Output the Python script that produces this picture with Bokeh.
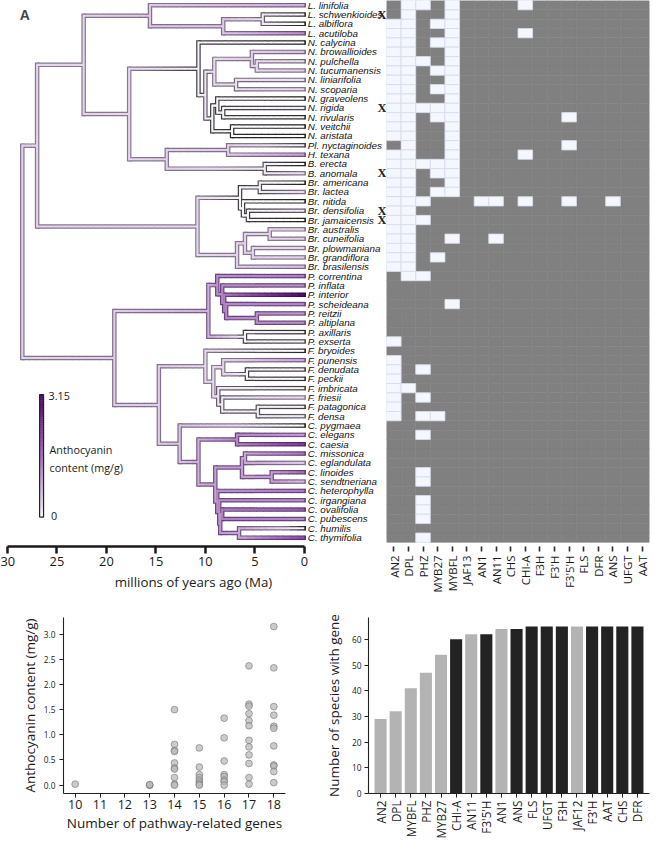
import math
from bokeh.plotting import figure
from bokeh.layouts import row, column
from bokeh.models import Range1d, FactorRange, FixedTicker, ColumnDataSource, Label, PrintfTickFormatter
from bokeh.core.properties import value
from bokeh.embed import file_html
from bokeh.resources import INLINE

# ---------------- data ----------------
species = [
    "L. linifolia", "L. schwenkioides", "L. albiflora", "L. acutiloba",
    "N. calycina", "N. browallioides", "N. pulchella", "N. tucumanensis",
    "N. liniarifolia", "N. scoparia", "N. graveolens", "N. rigida",
    "N. rivularis", "N. veitchii", "N. aristata", "Pl. nyctaginoides",
    "H. texana", "B. erecta", "B. anomala", "Br. americana", "Br. lactea",
    "Br. nitida", "Br. densifolia", "Br. jamaicensis", "Br. australis",
    "Br. cuneifolia", "Br. plowmaniana", "Br. grandiflora", "Br. brasilensis",
    "P. correntina", "P. inflata", "P. interior", "P. scheideana", "P. reitzii",
    "P. altiplana", "P. axillaris", "P. exserta", "F. bryoides", "F. punensis",
    "F. denudata", "F. peckii", "F. imbricata", "F. friesii", "F. patagonica",
    "F. densa", "C. pygmaea", "C. elegans", "C. caesia", "C. missonica",
    "C. eglandulata", "C. linoides", "C. sendtneriana", "C. heterophylla",
    "C. irgangiana", "C. ovalifolia", "C. pubescens", "C. humilis", "C. thymifolia",
]
anthocyanin = [
    0.8, 0.05, 0.0, 1.2,
    0.0, 0.6, 0.25, 0.4,
    0.25, 0.35, 0.0, 0.15,
    0.05, 0.0, 0.02, 0.1,
    1.0, 0.0, 0.3, 0.0, 0.3,
    0.0, 0.2, 0.0, 0.4,
    0.4, 0.3, 0.35, 0.6,
    1.4, 1.2, 3.15, 1.3, 1.1,
    1.2, 0.05, 0.15, 0.02, 0.9,
    0.1, 0.05, 0.1, 0.3, 0.1,
    0.2, 0.0, 1.0, 2.3, 1.5,
    0.4, 1.6, 0.6, 1.4,
    1.2, 1.8, 1.3, 0.0, 2.0,
]
marked_species = ["L. schwenkioides", "N. rigida", "B. anomala", "Br. densifolia", "Br. jamaicensis"]

# internal nodes: (name, age in Ma, reconstructed anthocyanin, children)
tree_nodes = [
    ("root", 28.5, 0.4, ["U", "Low"]),
    ("U", 27.0, 0.35, ["LN", "Br"]),
    ("LN", 22.3, 0.35, ["L", "NPHB"]),
    ("L", 15.6, 0.5, ["L. linifolia", "L2"]),
    ("L2", 8.2, 0.5, ["L3", "L. acutiloba"]),
    ("L3", 4.2, 0.2, ["L. schwenkioides", "L. albiflora"]),
    ("NPHB", 17.7, 0.3, ["N", "PHB"]),
    ("N", 10.7, 0.1, ["N. calycina", "N2"]),
    ("N2", 10.0, 0.2, ["N3", "N4"]),
    ("N3", 9.1, 0.3, ["N5", "N6"]),
    ("N5", 5.3, 0.45, ["N. browallioides", "N7"]),
    ("N7", 4.8, 0.3, ["N. pulchella", "N. tucumanensis"]),
    ("N6", 6.9, 0.25, ["N. liniarifolia", "N. scoparia"]),
    ("N4", 9.3, 0.1, ["N8", "N9"]),
    ("N8", 8.8, 0.1, ["N. graveolens", "N8b"]),
    ("N8b", 8.2, 0.1, ["N. rigida", "N. rivularis"]),
    ("N9", 7.3, 0.03, ["N. veitchii", "N. aristata"]),
    ("PHB", 13.9, 0.4, ["PlH", "Bx"]),
    ("PlH", 7.7, 0.45, ["Pl. nyctaginoides", "H. texana"]),
    ("Bx", 4.0, 0.15, ["B. erecta", "B. anomala"]),
    ("Br", 10.8, 0.3, ["BrA", "BrB"]),
    ("BrA", 6.5, 0.1, ["BrA1", "BrA2"]),
    ("BrA1", 4.5, 0.15, ["Br. americana", "Br. lactea"]),
    ("BrA2", 6.2, 0.08, ["Br. nitida", "BrA3"]),
    ("BrA3", 5.7, 0.1, ["Br. densifolia", "Br. jamaicensis"]),
    ("BrB", 6.8, 0.4, ["BrB1", "Br. brasilensis"]),
    ("BrB1", 6.0, 0.4, ["BrB2", "BrB3"]),
    ("BrB2", 3.5, 0.4, ["Br. australis", "Br. cuneifolia"]),
    ("BrB3", 5.2, 0.35, ["Br. plowmaniana", "Br. grandiflora"]),
    ("Low", 19.2, 0.45, ["P", "FC"]),
    ("P", 9.7, 0.8, ["Pcore", "Pax"]),
    ("Pcore", 8.8, 1.2, ["P. correntina", "Pc2"]),
    ("Pc2", 8.3, 1.3, ["P. inflata", "Pc3"]),
    ("Pc3", 8.1, 1.4, ["P. interior", "Pc4"]),
    ("Pc4", 7.9, 1.3, ["P. scheideana", "Pc5"]),
    ("Pc5", 4.8, 1.2, ["P. reitzii", "P. altiplana"]),
    ("Pax", 6.0, 0.1, ["P. axillaris", "P. exserta"]),
    ("FC", 14.7, 0.45, ["F", "C"]),
    ("F", 10.0, 0.3, ["F. bryoides", "Fcore"]),
    ("Fcore", 9.2, 0.3, ["FA", "FB"]),
    ("FA", 8.2, 0.4, ["F. punensis", "FA2"]),
    ("FA2", 5.8, 0.1, ["F. denudata", "F. peckii"]),
    ("FB", 8.7, 0.2, ["F. imbricata", "FB2"]),
    ("FB2", 8.3, 0.2, ["F. friesii", "FB3"]),
    ("FB3", 4.7, 0.15, ["F. patagonica", "F. densa"]),
    ("C", 12.6, 0.55, ["C. pygmaea", "Ccore"]),
    ("Ccore", 10.7, 0.8, ["Cel", "Crest"]),
    ("Cel", 6.8, 1.3, ["C. elegans", "C. caesia"]),
    ("Crest", 9.0, 1.0, ["G1", "Cr2"]),
    ("G1", 6.3, 1.0, ["G1a", "G1b"]),
    ("G1a", 6.0, 0.9, ["C. missonica", "C. eglandulata"]),
    ("G1b", 3.3, 1.0, ["C. linoides", "C. sendtneriana"]),
    ("Cr2", 8.8, 1.2, ["C. heterophylla", "Cr3"]),
    ("Cr3", 8.6, 1.2, ["C. irgangiana", "Cr4"]),
    ("Cr4", 8.5, 1.1, ["Cr5", "Chum"]),
    ("Cr5", 8.3, 1.4, ["C. ovalifolia", "C. pubescens"]),
    ("Chum", 6.6, 0.9, ["C. humilis", "C. thymifolia"]),
]

heat_genes = ["AN2", "DPL", "PHZ", "MYB27", "MYBFL", "JAF13", "AN1", "AN11", "CHS",
              "CHI-A", "F3H", "F3'H", "F3'5'H", "FLS", "DFR", "ANS", "UFGT", "AAT"]
# indices (into heat_genes) of genes NOT found, per species
absent_idx = [
    [1, 2, 4, 9], [1, 4], [0, 1, 3, 4], [0, 1, 4, 9],
    [0, 1, 3, 4], [0, 1, 4], [0, 1, 2, 4], [0, 1, 3, 4],
    [0, 1, 4], [0, 1, 3, 4], [0, 1, 4], [0, 1, 2, 3, 4],
    [0, 1, 3, 4, 12], [0, 1, 4], [0, 1, 4], [1, 4, 12],
    [0, 1, 4, 9], [0, 1, 2, 3, 4], [0, 1, 3, 4], [0, 1, 4], [0, 1, 3, 4],
    [0, 1, 2, 6, 7, 9, 12, 15], [0, 1], [0, 1, 2], [0, 1],
    [0, 1, 4, 7], [0, 1], [0, 1, 3], [0, 1],
    [1, 2], [], [], [4], [],
    [], [], [0], [], [0],
    [0, 2], [0], [0, 1], [0, 2], [0],
    [0, 2, 3], [], [2], [], [],
    [], [2], [2], [],
    [2], [2], [2], [], [2],
]

scatter_gene_number = [10, 13, 13, 13,
                       14, 14, 14, 14, 14, 14, 14, 14, 14, 14,
                       15, 15, 15, 15, 15, 15, 15, 15,
                       16, 16, 16, 16, 16, 16, 16, 16,
                       17, 17, 17, 17, 17, 17, 17, 17, 17, 17, 17, 17,
                       18, 18, 18, 18, 18, 18, 18, 18, 18, 18, 18]
scatter_anthocyanin = [0.02, 0.0, 0.0, 0.01,
                       1.50, 0.81, 0.69, 0.67, 0.44, 0.34, 0.32, 0.15, 0.02, 0.0,
                       0.74, 0.36, 0.21, 0.15, 0.10, 0.06, 0.02, 0.0,
                       1.33, 0.94, 0.48, 0.21, 0.17, 0.10, 0.07, 0.0,
                       2.37, 1.61, 1.57, 1.42, 1.28, 1.18, 0.89, 0.76, 0.60, 0.43, 0.15, 0.02,
                       3.15, 2.33, 1.56, 1.39, 1.17, 1.13, 0.78, 0.40, 0.38, 0.27, 0.05]

bar_genes = ["AN2", "DPL", "MYBFL", "PHZ", "MYB27", "CHI-A", "AN11", "F3'5'H", "AN1",
             "ANS", "FLS", "UFGT", "F3H", "JAF12", "F3'H", "AAT", "CHS", "DFR"]
bar_counts = [29, 32, 41, 47, 54, 60, 62, 62, 64, 64, 65, 65, 65, 65, 65, 65, 65, 65]
bar_regulatory = [True, True, True, True, True, False, True, False, True,
                  False, False, False, False, True, False, False, False, False]

# ---------------- style ----------------
SANS = "Open Sans"
ITAL = "Liberation Sans"
BOLD = "Liberation Sans"
fill_stops = [0.0, 0.3, 1.0, 2.0, 3.15]
fill_rgb = [(255, 255, 255), (232, 218, 238), (196, 160, 210), (141, 76, 168), (77, 10, 107)]
edge_stops = [0.0, 0.12, 0.3, 1.0, 3.15]
edge_rgb = [(30, 30, 30), (70, 66, 72), (135, 122, 142), (112, 78, 132), (58, 4, 82)]


def interp_color(v, stops, rgbs):
    v = max(stops[0], min(stops[-1], v))
    for i in range(len(stops) - 1):
        a, b = stops[i], stops[i + 1]
        if v <= b:
            t = (v - a) / (b - a)
            c0, c1 = rgbs[i], rgbs[i + 1]
            return "#%02x%02x%02x" % tuple(int(round(c0[k] + (c1[k] - c0[k]) * t)) for k in range(3))
    return "#%02x%02x%02x" % rgbs[-1]


def antho_color(v):
    return interp_color(v, fill_stops, fill_rgb)


def edge_color(v):
    return interp_color(v, edge_stops, edge_rgb)


def style_axis(a, label_size):
    a.axis_line_color = "#222222"
    a.axis_line_width = 1.1
    a.major_tick_line_color = "#222222"
    a.major_tick_out = 4
    a.major_tick_in = 0
    a.minor_tick_line_color = None
    a.major_label_text_font = SANS
    a.major_label_text_color = "#1a1a1a"
    a.major_label_text_font_size = label_size
    a.axis_label_text_font = SANS
    a.axis_label_text_font_style = "normal"
    a.axis_label_text_font_size = "13.5px"
    a.axis_label_text_color = "#1a1a1a"


# ---------------- panel A: tree ----------------
node_info = {n: (age, v, ch) for n, age, v, ch in tree_nodes}
tip_row = {s: i + 0.5 for i, s in enumerate(species)}
tip_val = dict(zip(species, anthocyanin))
ycache = {}


def ypos(n):
    if n in tip_row:
        return tip_row[n]
    if n not in ycache:
        ys = [ypos(c) for c in node_info[n][2]]
        ycache[n] = (min(ys) + max(ys)) / 2.0
    return ycache[n]


def info(n):
    if n in tip_row:
        return 0.0, tip_val[n]
    return node_info[n][0], node_info[n][1]


v_xs, v_ys, v_in, v_out = [], [], [], []
h_xs, h_ys, h_in, h_out = [], [], [], []
for n, age, v, ch in tree_nodes:
    ys = [ypos(c) for c in ch]
    v_xs.append([age, age]); v_ys.append([min(ys), max(ys)])
    v_in.append(antho_color(v)); v_out.append(edge_color(v))
    for c in ch:
        ca, cv = info(c)
        cy = ypos(c)
        k = max(3, int((age - ca) * 1.5))
        for j in range(k):
            x0 = age + (ca - age) * j / k
            x1 = age + (ca - age) * (j + 1) / k
            if j < k - 1:
                x1 -= 0.06
            vv = v + (cv - v) * (j + 0.5) / k
            h_xs.append([x0, x1]); h_ys.append([cy, cy])
            h_in.append(antho_color(vv)); h_out.append(edge_color(vv))
        if c in tip_row:  # closing cap at the tip
            h_xs.append([ca + 0.05, ca - 0.16]); h_ys.append([cy, cy])
            h_in.append(None); h_out.append(edge_color(cv))

TOP_H = 598
pa = figure(width=386, height=TOP_H, x_range=Range1d(30.7, -8.3), y_range=Range1d(58.45, 0),
            output_backend="svg", toolbar_location=None, y_axis_location=None,
            min_border_left=0, min_border_right=0, min_border_top=0, min_border_bottom=52)
pa.grid.visible = False
pa.outline_line_color = None
pa.multi_line(xs=v_xs, ys=v_ys, line_color=v_out, line_width=4.5, line_cap="square")
pa.multi_line(xs=h_xs, ys=h_ys, line_color=h_out, line_width=4.5, line_cap="butt")
pa.multi_line(xs=v_xs, ys=v_ys, line_color=v_in, line_width=2.1, line_cap="square")
in_idx = [i for i, c in enumerate(h_in) if c is not None]
pa.multi_line(xs=[h_xs[i] for i in in_idx], ys=[h_ys[i] for i in in_idx],
              line_color=[h_in[i] for i in in_idx], line_width=2.1, line_cap="butt")

ax = pa.xaxis[0]
style_axis(ax, "12.8px")
ax.bounds = (0, 30)
ax.ticker = FixedTicker(ticks=[0, 5, 10, 15, 20, 25, 30])
ax.axis_line_width = 2.5
ax.axis_line_color = "#1a1a1a"
ax.major_tick_line_width = 2.5
ax.major_tick_line_color = "#1a1a1a"
ax.major_tick_out = 7
ax.major_label_standoff = 3
ax.axis_label = "millions of years ago (Ma)"
ax.axis_label_text_font_size = "13.3px"
ax.axis_label_standoff = 4

pa.text(x=[-0.35] * len(species), y=[tip_row[s] for s in species], text=species,
        text_font=value(ITAL), text_font_style="italic", text_font_size="9.8px",
        text_baseline="middle", text_align="left", text_color="#111111")
pa.text(x=[-7.85] * len(marked_species), y=[tip_row[s] for s in marked_species],
        text=["X"] * len(marked_species),
        text_font=value("Liberation Serif"), text_font_style="bold", text_font_size="12.5px",
        text_baseline="middle", text_align="center", text_color="#222222")

# colour bar (legend)
cb_vals = [3.15 * i / 60 for i in range(61)]
cb_bottom_row, cb_top_row = 55.3, 42.2
cb_src = dict(left=[], right=[], top=[], bottom=[], color=[])
for i in range(60):
    v0, v1 = cb_vals[i], cb_vals[i + 1]
    cb_src["left"].append(26.75); cb_src["right"].append(26.35)
    cb_src["bottom"].append(cb_bottom_row - (cb_bottom_row - cb_top_row) * v0 / 3.15)
    cb_src["top"].append(cb_bottom_row - (cb_bottom_row - cb_top_row) * v1 / 3.15)
    cb_src["color"].append(antho_color((v0 + v1) / 2))
pa.quad(left="left", right="right", top="top", bottom="bottom", fill_color="color",
        line_color="color", line_width=0.5, source=ColumnDataSource(cb_src))
pa.quad(left=[26.75], right=[26.35], top=[cb_top_row], bottom=[cb_bottom_row],
        fill_color=None, line_color="#222222", line_width=1.2)
for txt, xx, yy in [("3.15", 25.85, 42.3), ("0", 25.6, 55.2),
                    ("Anthocyanin", 25.75, 48.05), ("content (mg/g)", 25.75, 49.95)]:
    pa.add_layout(Label(x=xx, y=yy, text=txt, text_font=SANS, text_font_size="10.8px",
                        text_baseline="middle", text_align="left", text_color="#1a1a1a"))
pa.add_layout(Label(x=28.75, y=1.6, text="A", text_font=BOLD, text_font_style="bold",
                    text_font_size="14px", text_baseline="middle", text_align="left"))

# ---------------- panel A: heat map ----------------
dark = dict(g=[], y=[])
light = dict(g=[], y=[])
for i, s in enumerate(species):
    for j, g in enumerate(heat_genes):
        d = light if j in absent_idx[i] else dark
        d["g"].append(g); d["y"].append(i + 0.5)

ph = figure(width=265, height=TOP_H, x_range=FactorRange(*heat_genes), y_range=Range1d(58.45, 0),
            output_backend="svg", toolbar_location=None, y_axis_location=None,
            min_border_left=0, min_border_right=2, min_border_top=0, min_border_bottom=52)
ph.grid.visible = False
ph.outline_line_color = None
ph.rect(x="g", y="y", width=1, height=1, source=ColumnDataSource(dark),
        fill_color="#808080", line_color="#808080", line_width=0.6)
ph.rect(x="g", y="y", width=1, height=1, source=ColumnDataSource(light),
        fill_color="#f4f7fd", line_color="#d3dbeb", line_width=0.8)
hax = ph.xaxis[0]
style_axis(hax, "11.4px")
hax.axis_line_color = None
hax.major_tick_line_color = "#2a2a2a"
hax.major_tick_line_width = 1.6
hax.major_tick_out = 5
hax.major_label_orientation = math.pi / 2
hax.major_label_standoff = 4

# ---------------- panel B: scatter ----------------
BOT_H = 243
pb = figure(width=322, height=BOT_H, x_range=Range1d(9.53, 18.47), y_range=Range1d(-0.166, 3.33),
            output_backend="svg", toolbar_location=None,
            min_border_left=63, min_border_right=37, min_border_top=14, min_border_bottom=43)
pb.grid.visible = False
pb.outline_line_color = None
pb.scatter(x=scatter_gene_number, y=scatter_anthocyanin, size=6.8, fill_color="#b9b9b9",
           fill_alpha=0.75, line_color="#6e6e6e", line_alpha=0.8, line_width=0.7)
style_axis(pb.xaxis[0], "12.5px")
style_axis(pb.yaxis[0], "8.3px")
pb.xaxis.ticker = FixedTicker(ticks=[10, 11, 12, 13, 14, 15, 16, 17, 18])
pb.xaxis.major_label_standoff = 2
pb.xaxis.axis_label = "Number of pathway-related genes"
pb.xaxis.axis_label_standoff = 2
pb.yaxis.ticker = FixedTicker(ticks=[0, 0.5, 1.0, 1.5, 2.0, 2.5, 3.0])
pb.yaxis.formatter = PrintfTickFormatter(format="%.1f")
pb.yaxis.major_label_standoff = 4
pb.yaxis.axis_label = "Anthocyanin content (mg/g)"
pb.yaxis.axis_label_standoff = 2
pb.add_layout(Label(x=7.84, y=3.46, text="B", text_font=BOLD, text_font_style="bold",
                    text_font_size="14px", text_baseline="middle", text_align="left"))

# ---------------- panel C: bars ----------------
pc = figure(width=329, height=BOT_H, x_range=FactorRange(*bar_genes, range_padding=0.3,
                                                         range_padding_units="absolute"),
            y_range=Range1d(0, 68.5), output_backend="svg", toolbar_location=None,
            min_border_left=40, min_border_right=2, min_border_top=19, min_border_bottom=42)
pc.grid.visible = False
pc.outline_line_color = None
pc.vbar(x=bar_genes, top=bar_counts, width=0.8,
        fill_color=["#b3b3b3" if r else "#232323" for r in bar_regulatory], line_color=None)
style_axis(pc.xaxis[0], "11.7px")
style_axis(pc.yaxis[0], "8.3px")
pc.xaxis.major_label_orientation = math.pi / 2
pc.xaxis.major_label_standoff = 3
pc.yaxis.ticker = FixedTicker(ticks=[0, 10, 20, 30, 40, 50, 60])
pc.yaxis.major_label_standoff = 3
pc.yaxis.axis_label = "Number of species with gene"
pc.yaxis.axis_label_standoff = 6
pc.add_layout(Label(x=-0.4, y=73.0, text="C", text_font=BOLD, text_font_style="bold",
                    text_font_size="14px", text_baseline="middle", text_align="left"))

layout = column(row(pa, ph), row(pb, pc))
open("out.html", "w").write(file_html(layout, INLINE))
